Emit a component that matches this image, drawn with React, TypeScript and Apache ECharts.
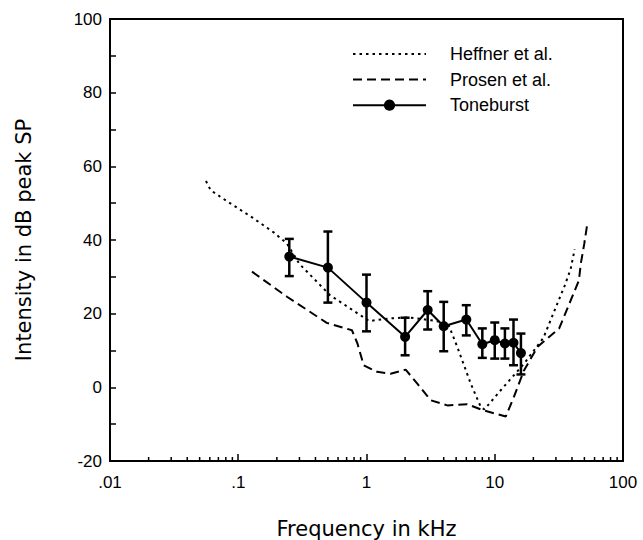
import React, { useEffect, useRef } from "react";
import * as echarts from "echarts";

const heffnerX = [0.056, 0.061, 0.082, 0.13, 0.19, 0.24, 0.3, 0.52, 1.05, 1.5, 2.1, 3.2, 4.3, 5.1, 6.5, 7.8, 8.3, 11, 17, 24, 35, 39, 42];
const heffnerY = [56, 53.5, 50.5, 46, 42, 39, 33.5, 25, 18, 18.7, 19, 18.2, 17.5, 11, 1, -5.4, -6, -1, 6.5, 13.5, 27.5, 32, 37.5];

const prosenX = [0.128, 0.24, 0.49, 0.77, 0.85, 0.95, 1.21, 1.54, 2.02, 2.49, 3.16, 4.27, 6.1, 8.25, 12.2, 14.1, 16.9, 21.6, 31.8, 45.3, 46.9, 49.9, 53];
const prosenY = [31.4, 24.6, 17.5, 15.5, 11.9, 6, 4.2, 3.7, 4.8, 1, -3.5, -4.9, -4.6, -6.3, -7.9, -2.6, 4.6, 11, 16, 29, 33.6, 39, 45];

const toneX = [0.25, 0.5, 1, 2, 3, 4, 6, 8, 10, 12, 14, 16];
const toneY = [35.5, 32.5, 23, 13.7, 21, 16.6, 18.4, 11.7, 12.8, 11.9, 12.1, 9.3];
const toneLow = [30.2, 23, 15.2, 8.7, 15.7, 9.8, 14.1, 8, 7.8, 7.8, 6, 3.5];
const toneHigh = [40.3, 42.3, 30.6, 18.9, 26.1, 23.2, 22.3, 16, 17.6, 16, 18.4, 14.6];

const xTickLabels: Record<string, string> = { "0.01": ".01", "0.1": ".1", "1": "1", "10": "10", "100": "100" };
const minorTicks = [
  0.02, 0.03, 0.04, 0.05, 0.06, 0.07, 0.08, 0.09,
  0.2, 0.3, 0.4, 0.5, 0.6, 0.7, 0.8, 0.9,
  2, 3, 4, 5, 6, 7, 8, 9,
  20, 30, 40, 50, 60, 70, 80, 90,
];

const X_MIN = 0.01;
const X_MAX = 100;
const Y_MIN = -20;
const Y_MAX = 100;

const FONT = "Liberation Sans, Arial, Helvetica, sans-serif";
const TITLE_FONT = "DejaVu Sans, Liberation Sans, sans-serif";

export default function App() {
  const ref = useRef<HTMLDivElement>(null);
  useEffect(() => {
    if (!ref.current) return;
    const chart = echarts.init(ref.current, null, { renderer: "svg" });
    const option: any = {
      animation: false,
      backgroundColor: "#fff",
      textStyle: { fontFamily: FONT },
      grid: {
        left: 110,
        right: 20,
        top: 19,
        bottom: 79,
        outerBoundsMode: "none",
        containLabel: false,
        show: true,
        borderColor: "#000",
        borderWidth: 2,
        backgroundColor: "transparent",
      },
      legend: {
        data: [
          { name: "Heffner et al.", itemStyle: { opacity: 0 } },
          { name: "Prosen et al.", itemStyle: { opacity: 0 } },
          { name: "Toneburst" },
        ],
        orient: "vertical",
        left: 347,
        top: 40,
        itemWidth: 73,
        itemHeight: 14,
        itemGap: 7.6,
        textStyle: { fontSize: 18, color: "#000", fontFamily: FONT, padding: [0, 0, 0, 19] },
      },
      xAxis: {
        type: "log",
        logBase: 10,
        min: X_MIN,
        max: X_MAX,
        name: "Frequency in kHz",
        nameLocation: "middle",
        nameGap: 57,
        nameTextStyle: { fontSize: 21, color: "#000", fontFamily: TITLE_FONT },
        axisLine: { onZero: false, lineStyle: { color: "#000", width: 2 } },
        axisTick: { inside: true, length: 7, lineStyle: { color: "#000", width: 1.5 } },
        axisLabel: {
          fontSize: 17,
          color: "#000",
          margin: 13,
          fontFamily: FONT,
          formatter: (v: number) => {
            const k = String(+v.toPrecision(6));
            return xTickLabels[k] ?? k;
          },
        },
        splitLine: { show: false },
      },
      yAxis: {
        type: "value",
        min: Y_MIN,
        max: Y_MAX,
        interval: 20,
        name: "Intensity in dB peak SP",
        nameLocation: "middle",
        nameGap: 76,
        nameTextStyle: { fontSize: 21, color: "#000", fontFamily: TITLE_FONT },
        axisLine: { show: true, onZero: false, lineStyle: { color: "#000", width: 2 } },
        axisTick: { show: true, inside: true, length: 6, lineStyle: { color: "#000", width: 1.5 } },
        minorTick: { show: true, splitNumber: 2, length: 6, lineStyle: { color: "#000", width: 1.5 } },
        axisLabel: { fontSize: 17, color: "#000", margin: 8, fontFamily: FONT },
        splitLine: { show: false },
      },
      series: [
        {
          type: "custom",
          name: "minorTicks",
          silent: true,
          clip: false,
          data: minorTicks.map((v) => [v, Y_MIN]),
          encode: { x: 0, y: 1 },
          renderItem: (_p: any, api: any) => {
            const pt = api.coord([api.value(0), api.value(1)]);
            return {
              type: "line",
              shape: { x1: pt[0], y1: pt[1], x2: pt[0], y2: pt[1] - 4 },
              style: { stroke: "#000", lineWidth: 1.5 },
            };
          },
        },
        {
          type: "line",
          name: "Heffner et al.",
          data: heffnerX.map((x, i) => [x, heffnerY[i]]),
          symbol: "none",
          lineStyle: { color: "#000", width: 2, type: [2.5, 4] },
          itemStyle: { color: "#000" },
        },
        {
          type: "line",
          name: "Prosen et al.",
          data: prosenX.map((x, i) => [x, prosenY[i]]),
          symbol: "none",
          lineStyle: { color: "#000", width: 2, type: [9, 5] },
          itemStyle: { color: "#000" },
        },
        {
          type: "custom",
          name: "errorBars",
          silent: true,
          data: toneX.map((x, i) => [x, toneLow[i], toneHigh[i]]),
          encode: { x: 0, y: [1, 2] },
          renderItem: (_p: any, api: any) => {
            const lo = api.coord([api.value(0), api.value(1)]);
            const hi = api.coord([api.value(0), api.value(2)]);
            const h = 4.5;
            const st = { stroke: "#000", lineWidth: 2.5 };
            return {
              type: "group",
              children: [
                { type: "line", shape: { x1: lo[0], y1: lo[1], x2: hi[0], y2: hi[1] }, style: st },
                { type: "line", shape: { x1: lo[0] - h, y1: lo[1], x2: lo[0] + h, y2: lo[1] }, style: st },
                { type: "line", shape: { x1: hi[0] - h, y1: hi[1], x2: hi[0] + h, y2: hi[1] }, style: st },
              ],
            };
          },
        },
        {
          type: "line",
          name: "Toneburst",
          data: toneX.map((x, i) => [x, toneY[i]]),
          symbol: "circle",
          symbolSize: 10,
          lineStyle: { color: "#000", width: 2 },
          itemStyle: { color: "#000" },
          z: 5,
        },
      ],
    };
    chart.setOption(option);
    return () => chart.dispose();
  }, []);
  return (
    <div
      ref={ref}
      style={{ position: "fixed", left: 0, top: 0, width: 643, height: 540, background: "#fff" }}
    />
  );
}
